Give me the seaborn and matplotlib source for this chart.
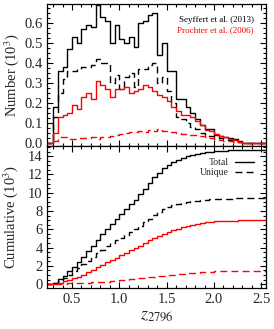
import numpy as np
import pandas as pd
import matplotlib
matplotlib.use("Agg")
import matplotlib.pyplot as plt
from matplotlib.ticker import MultipleLocator
from matplotlib.lines import Line2D
import seaborn as sns

# redshift bins (dz = 0.05), data between 0.30 and 2.30
z_edges = [round(0.20 + 0.05 * i, 2) for i in range(49)]

# counts per bin in units of 10^3, bins starting at z = 0.30
seyffert_total = [0.18, 0.36, 0.38, 0.47, 0.53, 0.50, 0.57, 0.59, 0.58, 0.69,
                  0.63, 0.61, 0.50, 0.59, 0.52, 0.50, 0.53, 0.48, 0.60, 0.61,
                  0.64, 0.65, 0.44, 0.50, 0.36, 0.36, 0.22, 0.22, 0.18, 0.15,
                  0.12, 0.09, 0.07, 0.07, 0.04, 0.035, 0.03, 0.025, 0.02, 0.01]
seyffert_unique = [0.13, 0.25, 0.32, 0.36, 0.36, 0.37, 0.38, 0.38, 0.39, 0.42,
                   0.40, 0.40, 0.30, 0.34, 0.27, 0.33, 0.35, 0.28, 0.37, 0.37,
                   0.39, 0.40, 0.30, 0.33, 0.26, 0.20, 0.13, 0.12, 0.10, 0.08,
                   0.07, 0.05, 0.04, 0.035, 0.03, 0.025, 0.02, 0.015, 0.01, 0.005]
prochter_total = [0.05, 0.13, 0.14, 0.15, 0.19, 0.17, 0.23, 0.25, 0.22, 0.31,
                  0.29, 0.27, 0.23, 0.27, 0.27, 0.28, 0.25, 0.26, 0.27, 0.29,
                  0.28, 0.26, 0.24, 0.23, 0.21, 0.18, 0.16, 0.14, 0.14, 0.13,
                  0.11, 0.09, 0.065, 0.06, 0.045, 0.035, 0.03, 0.02, 0.015, 0.005]
prochter_unique = [0.01, 0.03, 0.03, 0.02, 0.02, 0.025, 0.025, 0.025, 0.03, 0.02,
                   0.03, 0.03, 0.035, 0.04, 0.045, 0.05, 0.055, 0.055, 0.06, 0.055,
                   0.065, 0.06, 0.07, 0.06, 0.06, 0.055, 0.05, 0.045, 0.045, 0.04,
                   0.04, 0.035, 0.03, 0.025, 0.02, 0.015, 0.01, 0.01, 0.005, 0.003]

sns.set_style("ticks")
plt.rcParams["font.family"] = ["Liberation Serif", "DejaVu Serif"]
plt.rcParams["mathtext.fontset"] = "stix"

edges_arr = np.array(z_edges)
centers = (edges_arr[:-1] + edges_arr[1:]) / 2


def pad(vals):
    # zero bins on both sides of the data range
    return np.concatenate([[0, 0], vals, np.zeros(len(centers) - 2 - len(vals))])


series = [
    (seyffert_total, "black", "-"),
    (seyffert_unique, "black", (0, (5, 3))),
    (prochter_total, "red", "-"),
    (prochter_unique, "red", (0, (5, 3))),
]

fig = plt.figure(figsize=(2.74, 3.29), dpi=100)
ax1 = fig.add_axes([0.173, 0.556, 0.798, 0.432])
ax2 = fig.add_axes([0.173, 0.125, 0.798, 0.431], sharex=ax1)

for vals, col, ls in series:
    df = pd.DataFrame({"z": centers, "n": pad(vals)})
    sns.histplot(data=df, x="z", weights="n", bins=z_edges, element="step",
                 fill=False, color=col, linestyle=ls, linewidth=1.0, ax=ax1)
    sns.histplot(data=df, x="z", weights="n", bins=z_edges, element="step",
                 fill=False, cumulative=True, color=col, linestyle=ls,
                 linewidth=1.0, ax=ax2)

ax1.set_xlim(0.24, 2.55)
ax1.set_ylim(-0.015, 0.695)
ax2.set_ylim(-0.4, 15.1)

ax1.yaxis.set_major_locator(MultipleLocator(0.1))
ax1.yaxis.set_minor_locator(MultipleLocator(0.025))
ax2.yaxis.set_major_locator(MultipleLocator(2))
ax2.yaxis.set_minor_locator(MultipleLocator(0.5))
ax2.xaxis.set_major_locator(MultipleLocator(0.5))
ax2.xaxis.set_minor_locator(MultipleLocator(0.1))

for ax in (ax1, ax2):
    ax.tick_params(which="both", direction="in", top=True, right=True,
                   labelsize=10.5, width=0.8, color="black")
    ax.tick_params(which="major", length=4)
    ax.tick_params(which="minor", length=2)
    for s in ax.spines.values():
        s.set_linewidth(0.9)
        s.set_color("black")

ax1.tick_params(labelbottom=False)
ax1.set_xlabel("")
ax1.set_ylabel("Number (10$^3$)", fontsize=10.5, labelpad=2)
ax2.set_ylabel("Cumulative (10$^3$)", fontsize=10.5, labelpad=6)
ax2.set_xlabel("$z_{2796}$", fontsize=13, labelpad=0)

ax1.text(0.944, 0.885, "Seyffert et al. (2013)", transform=ax1.transAxes,
         ha="right", va="center", fontsize=6.5, color="black")
ax1.text(0.944, 0.818, "Prochter et al. (2006)", transform=ax1.transAxes,
         ha="right", va="center", fontsize=6.5, color="red")

handles = [Line2D([], [], color="black", lw=1.0, ls="-"),
           Line2D([], [], color="black", lw=1.0, ls=(0, (5, 3)))]
ax2.legend(handles, ["Total", "Unique"], loc="upper right", frameon=False,
           markerfirst=False, fontsize=7, handlelength=2.0, labelspacing=0.1,
           handletextpad=0.6, bbox_to_anchor=(0.985, 0.975))

fig.savefig("out.png", dpi=100)
